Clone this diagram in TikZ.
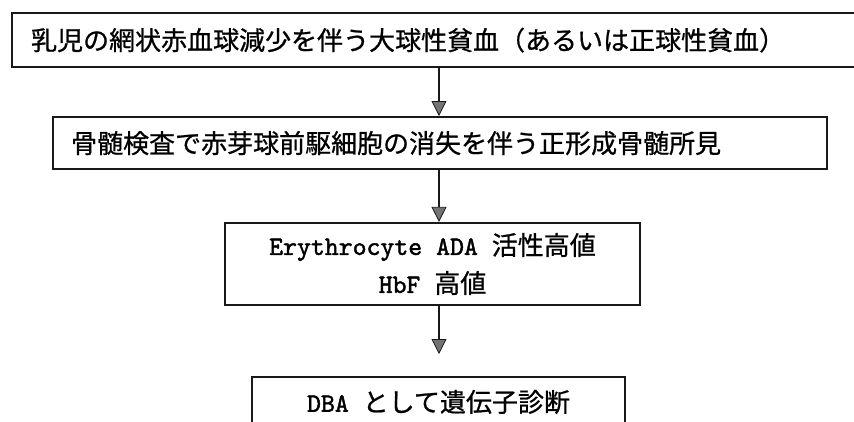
\documentclass[tikz,border=0pt]{standalone}
\usepackage{fontspec}
\setmainfont{Liberation Mono}
\newfontfamily\jpfont[FakeBold=0.8]{Noto Sans CJK JP}
\newfontfamily\latfont[FakeBold=1.6]{lmmono10-regular.otf}
\usetikzlibrary{arrows.meta}
\newcommand{\ltxt}[1]{{\latfont\fontsize{26.5pt}{38pt}\selectfont #1}}
\begin{document}
\begin{tikzpicture}[x=1pt,y=-1pt,
  box/.style={draw=black!90, line width=2.2pt, inner sep=0pt,
    font=\jpfont\fontsize{26pt}{38pt}\selectfont},
  flow/.style={line width=1.8pt, draw=black!90,
    -{Triangle[length=15pt,width=15pt,fill=black!55,line width=0.8pt]}}]
\useasboundingbox (0,0) rectangle (854,421);
\clip (0,0) rectangle (854,421);
\fill[white] (0,0) rectangle (854,421);
\node[box, anchor=north west, minimum width=869pt, minimum height=54pt,
  text width=831pt, align=left] (b1) at (11,12)
  {乳児の網状赤血球減少を伴う大球性貧血（あるいは正球性貧血）};
\node[box, anchor=north west, minimum width=774pt, minimum height=52pt,
  text width=738pt, align=left] (b2) at (52,116)
  {骨髄検査で赤芽球前駆細胞の消失を伴う正形成骨髄所見};
\node[box, minimum width=415pt, minimum height=82pt, align=center] (b3) at (432.5,264)
  {\ltxt{Erythrocyte ADA }活性高値\\\ltxt{HbF }高値};
\node[box, minimum width=373pt, minimum height=50pt, align=center] (b4) at (438.5,402)
  {\ltxt{DBA }として遺伝子診断};
\coordinate (e3) at (439,354);
\draw[flow] (b1.south -| e3) -- (b2.north -| e3);
\draw[flow] (b2.south -| e3) -- (b3.north -| e3);
\draw[flow] (b3.south -| e3) -- (e3);
\end{tikzpicture}
\end{document}
